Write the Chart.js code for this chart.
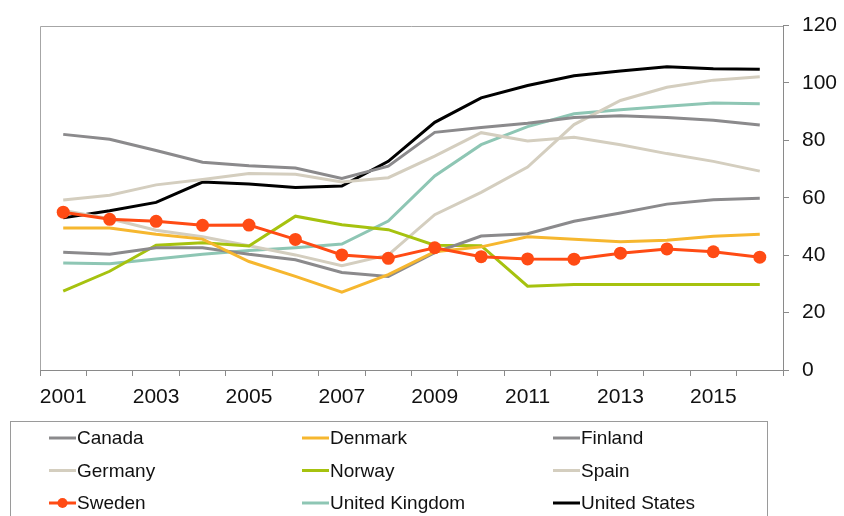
<!DOCTYPE html>
<html>
<head>
<meta charset="utf-8">
<script src="https://cdn.jsdelivr.net/npm/chart.js@4.4.1/dist/chart.umd.min.js"></script>
<style>
  html, body { margin: 0; padding: 0; background: #fff; }
  #wrap { width: 844px; height: 516px; position: relative; }
</style>
</head>
<body>
<div id="wrap"><canvas id="debt"></canvas></div>
<script>
// Years on the category axis
const years = ['2001', '2002', '2003', '2004', '2005', '2006', '2007', '2008',
               '2009', '2010', '2011', '2012', '2013', '2014', '2015', '2016'];

// Series values, one array per country
const canada        = [82.1, 80.4, 76.5, 72.4, 71.2, 70.4, 66.7, 71.0, 82.8, 84.5, 86.0, 88.0, 88.6, 88.0, 87.0, 85.4];
const denmark       = [49.5, 49.5, 47.3, 45.6, 37.8, 32.6, 27.1, 33.2, 41.2, 42.9, 46.4, 45.6, 44.7, 45.2, 46.6, 47.3];
const finland       = [41.0, 40.3, 42.6, 42.6, 40.3, 38.4, 34.0, 32.6, 40.9, 46.7, 47.5, 51.8, 54.7, 57.8, 59.3, 59.8];
const germany       = [59.2, 60.9, 64.5, 66.4, 68.5, 68.2, 65.5, 67.0, 74.5, 82.7, 79.8, 81.1, 78.5, 75.4, 72.7, 69.3];
const norway        = [27.5, 34.4, 43.5, 44.3, 43.2, 53.6, 50.6, 48.9, 43.5, 43.3, 29.2, 29.8, 29.8, 29.8, 29.8, 29.8];
const spain         = [55.6, 52.7, 48.7, 46.4, 43.3, 40.1, 36.3, 40.1, 54.1, 61.9, 70.7, 85.5, 93.9, 98.5, 101.0, 102.2];
const sweden        = [55.0, 52.5, 51.8, 50.4, 50.5, 45.5, 40.1, 38.9, 42.6, 39.5, 38.7, 38.6, 40.7, 42.2, 41.2, 39.3];
const unitedKingdom = [37.3, 37.0, 38.7, 40.3, 41.6, 42.6, 43.9, 51.9, 67.6, 78.5, 84.8, 89.3, 90.7, 91.9, 93.0, 92.8];
const unitedStates  = [53.0, 55.5, 58.4, 65.5, 64.8, 63.6, 64.1, 72.7, 86.3, 94.8, 99.1, 102.5, 104.2, 105.7, 105.0, 104.8];

const yTicks = [0, 20, 40, 60, 80, 100, 120];

const FONT = "'Liberation Sans', Arial, sans-serif";
const grey = '#8b8a8c';
const sand = '#d4cebf';

const series = [
  { label: 'Canada',         data: canada,        color: grey },
  { label: 'Denmark',        data: denmark,       color: '#f6b72f' },
  { label: 'Finland',        data: finland,       color: grey },
  { label: 'Germany',        data: germany,       color: sand },
  { label: 'Norway',         data: norway,        color: '#a6c20f' },
  { label: 'Spain',          data: spain,         color: sand },
  { label: 'Sweden',         data: sweden,        color: '#ff4b14', marker: true },
  { label: 'United Kingdom', data: unitedKingdom, color: '#8ec6b4' },
  { label: 'United States',  data: unitedStates,  color: '#000000' }
];

// Box around the plot (left and top edges) and a 3-column legend box underneath
const framePlugin = {
  id: 'frame',
  beforeDatasetsDraw(chart) {
    const { ctx, chartArea: a } = chart;
    ctx.save();
    ctx.strokeStyle = '#a6a6a6';
    ctx.lineWidth = 1;
    ctx.beginPath();
    ctx.moveTo(Math.round(a.left) + 0.5, Math.round(a.bottom));
    ctx.lineTo(Math.round(a.left) + 0.5, Math.round(a.top) + 0.5);
    ctx.lineTo(Math.round(a.right), Math.round(a.top) + 0.5);
    ctx.stroke();
    ctx.restore();
  },
  afterDraw(chart) {
    const ctx = chart.ctx;
    const cols = [49, 302, 553];
    const rows = [438, 470.5, 503];
    ctx.save();
    ctx.strokeStyle = '#9a9a9a';
    ctx.lineWidth = 1;
    ctx.strokeRect(10.5, 421.5, 757, 120);
    ctx.font = '19px ' + FONT;
    ctx.textBaseline = 'middle';
    ctx.fillStyle = '#111';
    series.forEach((s, i) => {
      const x = cols[i % 3];
      const y = rows[Math.floor(i / 3)];
      ctx.strokeStyle = s.color;
      ctx.lineWidth = 3;
      ctx.beginPath();
      ctx.moveTo(x, y);
      ctx.lineTo(x + 27, y);
      ctx.stroke();
      if (s.marker) {
        ctx.fillStyle = s.color;
        ctx.beginPath();
        ctx.arc(x + 13.5, y, 5, 0, Math.PI * 2);
        ctx.fill();
      }
      ctx.fillStyle = '#111';
      ctx.fillText(s.label, x + 28, y + 1);
    });
    ctx.restore();
  }
};

new Chart(document.getElementById('debt'), {
  type: 'line',
  data: {
    labels: years,
    datasets: series.map(s => ({
      label: s.label,
      data: s.data,
      borderColor: s.color,
      backgroundColor: s.color,
      borderWidth: 3,
      tension: 0,
      pointRadius: s.marker ? 6.5 : 0,
      pointBorderWidth: 0,
      order: s.marker ? -1 : 0
    }))
  },
  options: {
    responsive: true,
    maintainAspectRatio: false,
    animation: false,
    layout: { padding: { left: 40, top: 21, right: 0, bottom: 0 } },
    plugins: {
      legend: { display: false },
      tooltip: { enabled: false }
    },
    scales: {
      x: {
        type: 'category',
        offset: true,
        grid: {
          offset: true,
          drawOnChartArea: false,
          drawTicks: true,
          tickLength: 6,
          color: '#8a8a8a'
        },
        border: { display: true, color: '#8a8a8a', width: 1 },
        ticks: {
          autoSkip: false,
          maxRotation: 0,
          padding: 9,
          color: '#111',
          font: { family: FONT, size: 21 },
          callback: function(value, index) {
            return index % 2 === 0 ? years[index] : '';
          }
        },
        afterFit(scale) { scale.height = 146; }
      },
      y: {
        position: 'right',
        min: 0,
        max: 120,
        afterBuildTicks(scale) { scale.ticks = yTicks.map(v => ({ value: v })); },
        grid: {
          drawOnChartArea: false,
          drawTicks: true,
          tickLength: 6,
          color: '#8a8a8a'
        },
        border: { display: true, color: '#8a8a8a', width: 1 },
        ticks: {
          padding: 13,
          color: '#111',
          font: { family: FONT, size: 21 }
        },
        afterFit(scale) { scale.width = 61; }
      }
    }
  },
  plugins: [framePlugin]
});
</script>
</body>
</html>
